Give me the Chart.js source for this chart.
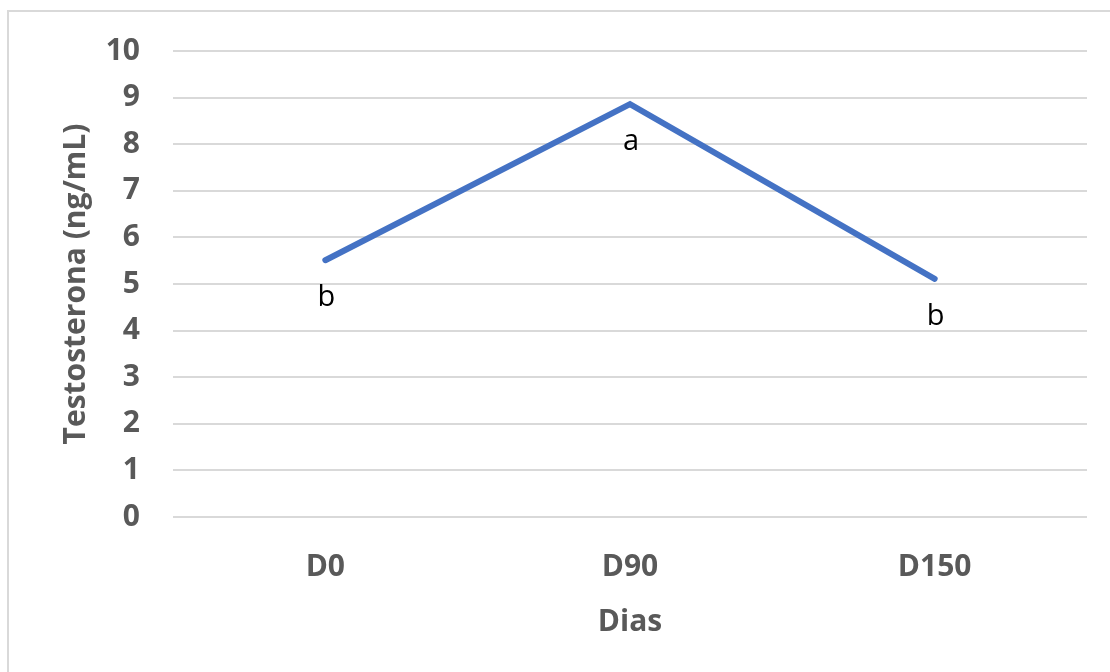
<!DOCTYPE html>
<html>
<head>
<meta charset="utf-8">
<title>Testosterona</title>
<script src="https://cdn.jsdelivr.net/npm/chart.js@4"></script>
<style>
  html, body { margin: 0; padding: 0; background: #ffffff; }
  #wrap { width: 1110px; height: 672px; position: relative; }
</style>
</head>
<body>
<div id="wrap"><canvas id="chart"></canvas></div>
<script>
// chart data
const days = ['D0', 'D90', 'D150'];
const testosterone = [5.51, 8.86, 5.11];
const letters = ['b', 'a', 'b'];
const yTicks = [0, 1, 2, 3, 4, 5, 6, 7, 8, 9, 10];

const greyText = '#595959';
const gridGrey = '#d9d9d9';

// light frame around the chart area (top and left edges are visible)
const framePlugin = {
  id: 'frame',
  beforeDraw(chart) {
    const ctx = chart.ctx;
    ctx.save();
    ctx.strokeStyle = gridGrey;
    ctx.lineWidth = 2;
    ctx.strokeRect(8, 11, chart.width + 20, chart.height + 20);
    ctx.restore();
  }
};

// significance letters under each point
const lettersPlugin = {
  id: 'letters',
  afterDatasetsDraw(chart) {
    const ctx = chart.ctx;
    const meta = chart.getDatasetMeta(0);
    ctx.save();
    ctx.fillStyle = '#000000';
    ctx.font = '29px "Open Sans"';
    ctx.textAlign = 'center';
    ctx.textBaseline = 'middle';
    meta.data.forEach((pt, i) => {
      ctx.fillText(letters[i], pt.x + 1, pt.y + 38);
    });
    ctx.restore();
  }
};

const ctx = document.getElementById('chart').getContext('2d');
new Chart(ctx, {
  type: 'line',
  data: {
    labels: days,
    datasets: [{
      data: testosterone,
      borderColor: '#4472C4',
      borderWidth: 6,
      borderCapStyle: 'round',
      borderJoinStyle: 'miter',
      pointRadius: 0,
      tension: 0,
      fill: false
    }]
  },
  options: {
    responsive: true,
    maintainAspectRatio: false,
    animation: false,
    layout: { padding: { top: 48, right: 23, bottom: 0, left: 0 } },
    plugins: {
      legend: { display: false },
      tooltip: { enabled: false }
    },
    scales: {
      x: {
        offset: true,
        grid: { display: false, drawTicks: false },
        border: { display: false },
        ticks: {
          color: greyText,
          padding: 32,
          font: { family: 'Open Sans', size: 30, weight: 'bold' }
        },
        title: {
          display: true,
          text: 'Dias',
          color: greyText,
          padding: { top: 0, bottom: 32 },
          font: { family: 'Open Sans', size: 30, weight: 'bold' }
        },
        afterFit(scale) { scale.height = 672 - 517; }
      },
      y: {
        min: 0,
        max: 10,
        afterBuildTicks(scale) { scale.ticks = yTicks.map(v => ({ value: v })); },
        grid: { color: gridGrey, lineWidth: 2, drawTicks: false },
        border: { display: false },
        ticks: {
          color: greyText,
          padding: 33,
          font: { family: 'Open Sans', size: 30, weight: 'bold' }
        },
        title: {
          display: true,
          text: 'Testosterona (ng/mL)',
          color: greyText,
          padding: { top: 58, bottom: 0 },
          font: { family: 'Open Sans', size: 30, weight: 'bold' }
        },
        afterFit(scale) { scale.width = 173; }
      }
    }
  },
  plugins: [framePlugin, lettersPlugin]
});
</script>
</body>
</html>
